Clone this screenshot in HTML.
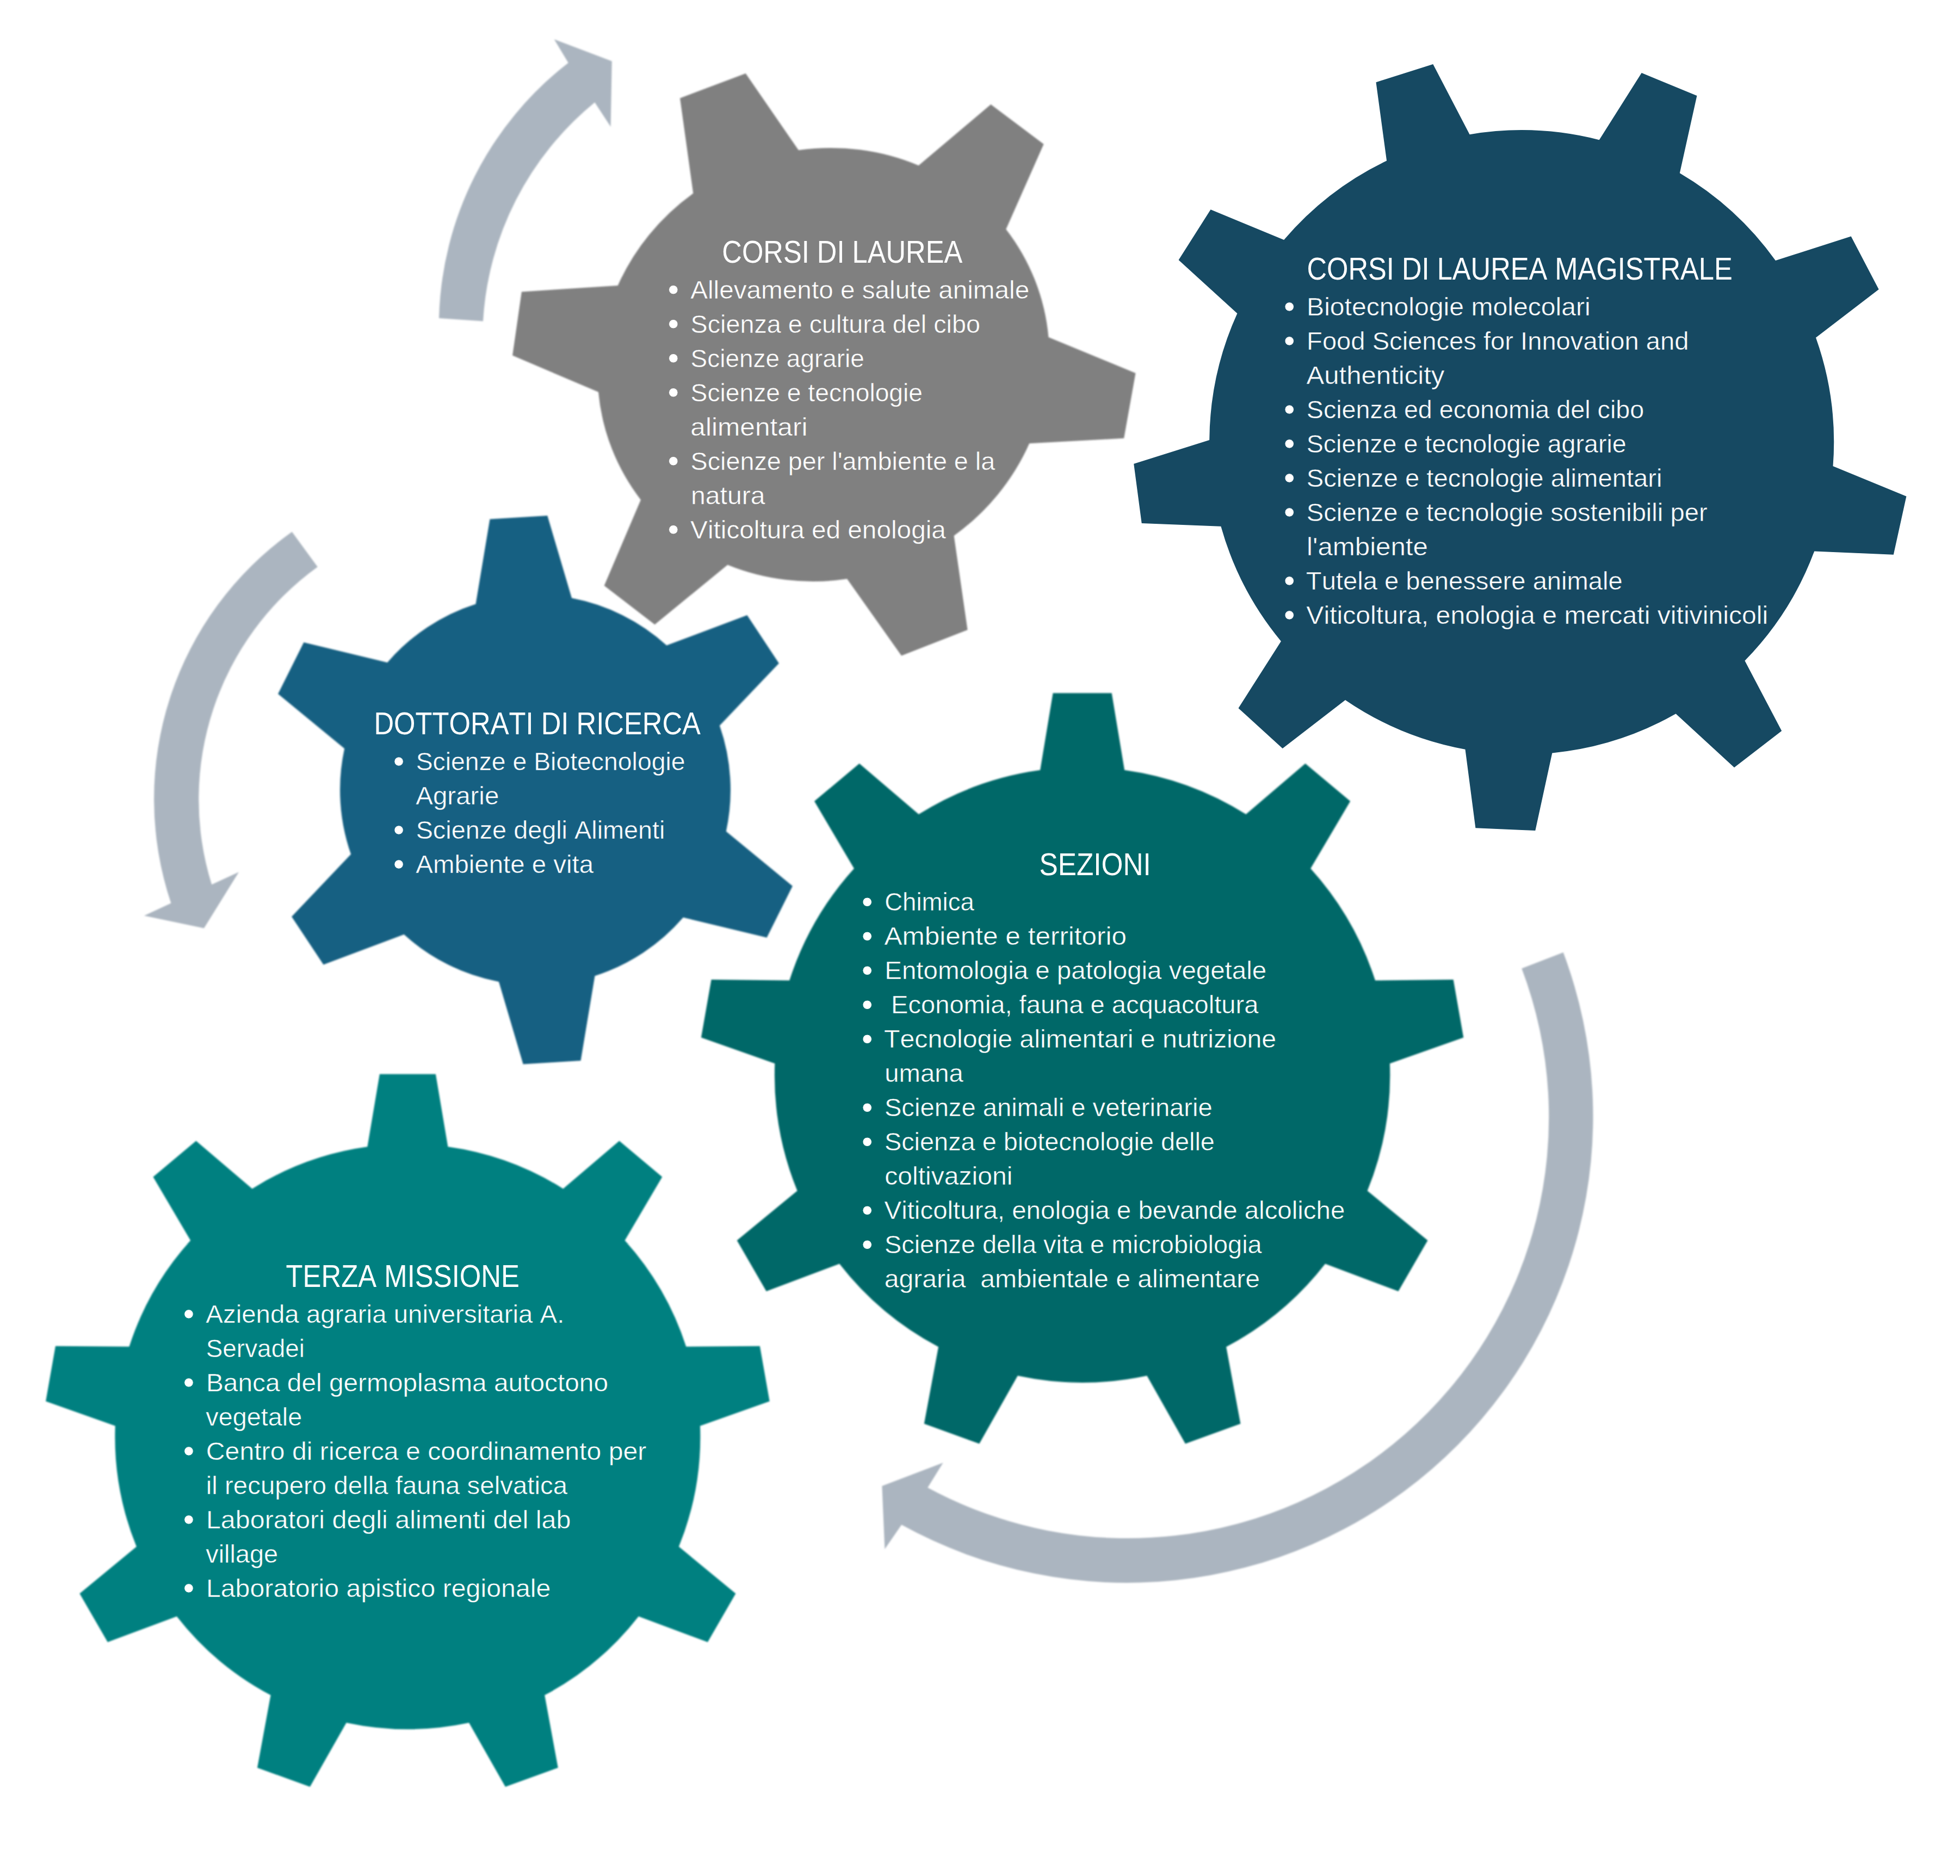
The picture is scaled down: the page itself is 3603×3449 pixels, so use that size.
<!DOCTYPE html>
<html lang="it"><head><meta charset="utf-8"><title>Dipartimento - ingranaggi</title>
<style>html,body{margin:0;padding:0;background:#ffffff}body{width:3603px;height:3449px;overflow:hidden}svg{display:block}text{font-family:"Liberation Sans",sans-serif;fill:#fff;font-kerning:none;white-space:pre}.t{font-size:56.9px;stroke:none}.i{font-size:46.3px;stroke-width:.5px}</style></head><body>
<svg width="3603" height="3449" viewBox="0 0 3603 3449">
<rect width="3603" height="3449" fill="#ffffff"/>
<defs><filter id="soft" x="-2%" y="-2%" width="104%" height="104%"><feGaussianBlur stdDeviation="1.6"/></filter><filter id="soft2" x="-2%" y="-2%" width="104%" height="104%"><feGaussianBlur stdDeviation="0.5"/></filter></defs>
<g filter="url(#soft)">
<path d="M807 585.1 A613.3 613.3 0 0 1 1044.7 115.5 L1018.7 72.2 L1124.8 112.5 L1122.6 233 L1093.3 188.3 A561.3 561.3 0 0 0 888 590.4 Z" fill="#abb5c0"/>
<path d="M536.7 977.8 A602.3 602.3 0 0 0 314.4 1660.5 L265 1683.5 L375 1706.5 L439 1603.3 L389.2 1626.3 A527.1 527.1 0 0 1 583.8 1042.2 Z" fill="#abb5c0"/>
<path d="M2873.7 1751.1 A857.2 857.2 0 0 1 1657.3 2803.3 L1626.4 2847.9 L1621.4 2732.1 L1733.6 2689.3 L1705.3 2735.1 A774.1 774.1 0 0 0 2797.3 1780.4 Z" fill="#abb5c0"/>
<path d="M1927.5 620 L2087.5 686 L2066.1 805.8 L1892.2 815.2 A415.2 397.9 -22 0 1 1753.6 985 L1778.6 1157.9 L1657.1 1205.4 L1557.1 1064.3 A415.2 397.9 -22 0 1 1337.5 1038.6 L1203.6 1148.2 L1110.7 1076.8 L1177.9 918.9 A415.2 397.9 -22 0 1 1100 720.7 L942.1 653.6 L958.9 536.4 L1135.7 525 A415.2 397.9 -22 0 1 1274.3 355.4 L1250 180.4 L1370.7 135 L1467.9 276.1 A415.2 397.9 -22 0 1 1688.6 304.3 L1821.4 192.1 L1918.6 265 L1849.3 421.4 A415.2 397.9 -22 0 1 1927.5 620 Z" fill="#808080"/>
<path d="M1334.8 1528.4 L1456.9 1628.9 L1409.6 1723.7 L1255.9 1686.7 A359 359 0 0 1 1093.5 1794.2 L1067.5 1950.1 L961.7 1956.6 L917 1805 A359 359 0 0 1 742.6 1718.1 L594.6 1773.6 L536.1 1685.2 L645.1 1570.6 A359 359 0 0 1 633.2 1376.2 L511.1 1275.7 L558.4 1180.9 L712.1 1217.9 A359 359 0 0 1 874.5 1110.4 L900.5 954.5 L1006.3 948 L1051 1099.6 A359 359 0 0 1 1225.4 1186.5 L1373.4 1131 L1431.9 1219.4 L1322.9 1334 A359 359 0 0 1 1334.8 1528.4 Z" fill="#176082"/>
<path d="M1912.1 1415.8 L1935.6 1274.2 L2043.6 1274.2 L2067.1 1415.8 A565.7 565.7 0 0 1 2290.4 1497.1 L2399.5 1403.7 L2482.2 1473.1 L2409.2 1596.8 A565.7 565.7 0 0 1 2528 1802.6 L2671.6 1801.1 L2690.3 1907.5 L2554.9 1955.2 A565.7 565.7 0 0 1 2513.6 2189.3 L2624.5 2280.4 L2570.5 2374 L2436.1 2323.5 A565.7 565.7 0 0 1 2254.1 2476.3 L2280.4 2617.4 L2179 2654.3 L2108.4 2529.3 A565.7 565.7 0 0 1 1870.8 2529.3 L1800.2 2654.3 L1698.8 2617.4 L1725.1 2476.3 A565.7 565.7 0 0 1 1543.1 2323.5 L1408.7 2374 L1354.7 2280.4 L1465.6 2189.3 A565.7 565.7 0 0 1 1424.3 1955.2 L1288.9 1907.5 L1307.6 1801.1 L1451.2 1802.6 A565.7 565.7 0 0 1 1570 1596.8 L1497 1473.1 L1579.7 1403.7 L1688.8 1497.1 A565.7 565.7 0 0 1 1912.1 1415.8 Z" fill="#006867"/>
<path d="M675.4 2108.3 L697.9 1974.7 L800.9 1974.7 L823.4 2108.3 A538 538 0 0 1 1035.2 2185.4 L1138.4 2097.5 L1217.3 2163.7 L1148.6 2280.6 A538 538 0 0 1 1261.3 2475.8 L1396.8 2474.7 L1414.7 2576.2 L1287 2621.5 A538 538 0 0 1 1247.9 2843.6 L1352.4 2929.8 L1300.9 3019.1 L1173.9 2971.7 A538 538 0 0 1 1001.2 3116.6 L1025.8 3249.9 L929 3285.1 L862.1 3167.3 A538 538 0 0 1 636.7 3167.3 L569.8 3285.1 L473 3249.9 L497.6 3116.6 A538 538 0 0 1 324.9 2971.7 L197.9 3019.1 L146.4 2929.8 L250.9 2843.6 A538 538 0 0 1 211.8 2621.5 L84.1 2576.2 L102 2474.7 L237.5 2475.8 A538 538 0 0 1 350.2 2280.6 L281.5 2163.7 L360.4 2097.5 L463.6 2185.4 A538 538 0 0 1 675.4 2108.3 Z" fill="#008080"/>
</g>
<path filter="url(#soft2)" d="M3369.5 857.1 L3504.4 912.4 L3480.8 1019.8 L3335.2 1013.4 A574 574 0 0 1 3207.4 1214.7 L3275.2 1343.8 L3188 1410.9 L3080.6 1312.3 A574 574 0 0 1 2853.3 1384.4 L2822.3 1526.9 L2712.4 1522.3 L2693.5 1377.7 A574 574 0 0 1 2473 1286.9 L2357.7 1376.1 L2276.5 1301.9 L2354.9 1179 A574 574 0 0 1 2244.4 967.7 L2098.7 961.9 L2084.2 852.8 L2223.2 809.1 A574 574 0 0 1 2274.4 576.2 L2166.6 478.1 L2225.5 385.3 L2360.2 441.1 A574 574 0 0 1 2549.1 295.6 L2529.5 151.2 L2634.3 117.9 L2701.6 247.2 A574 574 0 0 1 2939.8 257.2 L3017.7 134 L3119.4 175.9 L3087.8 318.2 A574 574 0 0 1 3263.9 479 L3402.7 434.6 L3453.7 532.1 L3338 620.8 A574 574 0 0 1 3369.5 857.1 Z" fill="#134862"/>
<g stroke="#808080">
<text class="t" xml:space="preserve" transform="matrix(0.8903 0 0 1 1327.34 483.2)">CORSI DI LAUREA</text>
<circle cx="1237.8" cy="532.7" r="8.3" fill="#fff"/>
<text class="i" xml:space="preserve" transform="matrix(1.0301 0 0 1 1269.21 548.7)">Allevamento e salute animale</text>
<circle cx="1237.8" cy="595.7" r="8.3" fill="#fff"/>
<text class="i" xml:space="preserve" transform="matrix(1.0094 0 0 1 1269.53 611.7)">Scienza e cultura del cibo</text>
<circle cx="1237.8" cy="658.7" r="8.3" fill="#fff"/>
<text class="i" xml:space="preserve" transform="matrix(0.9927 0 0 1 1269.57 674.7)">Scienze agrarie</text>
<circle cx="1237.8" cy="721.7" r="8.3" fill="#fff"/>
<text class="i" xml:space="preserve" transform="matrix(0.9984 0 0 1 1269.56 737.7)">Scienze e tecnologie</text>
<text class="i" xml:space="preserve" transform="matrix(1.0730 0 0 1 1269.28 800.7)">alimentari</text>
<circle cx="1237.8" cy="847.7" r="8.3" fill="#fff"/>
<text class="i" xml:space="preserve" transform="matrix(1.0095 0 0 1 1269.53 863.7)">Scienze per l'ambiente e la</text>
<text class="i" xml:space="preserve" transform="matrix(1.0413 0 0 1 1270.01 926.7)">natura</text>
<circle cx="1237.8" cy="973.7" r="8.3" fill="#fff"/>
<text class="i" xml:space="preserve" transform="matrix(1.0315 0 0 1 1269.09 989.7)">Viticoltura ed enologia</text>
</g>
<g stroke="#134862">
<text class="t" xml:space="preserve" transform="matrix(0.8902 0 0 1 2402.46 514.1)">CORSI DI LAUREA MAGISTRALE</text>
<circle cx="2370.2" cy="563.9" r="8.3" fill="#fff"/>
<text class="i" xml:space="preserve" transform="matrix(1.0400 0 0 1 2402.02 579.9)">Biotecnologie molecolari</text>
<circle cx="2370.2" cy="626.9" r="8.3" fill="#fff"/>
<text class="i" xml:space="preserve" transform="matrix(1.0181 0 0 1 2402.1 642.9)">Food Sciences for Innovation and</text>
<text class="i" xml:space="preserve" transform="matrix(1.0614 0 0 1 2401.4 705.9)">Authenticity</text>
<circle cx="2370.2" cy="752.9" r="8.3" fill="#fff"/>
<text class="i" xml:space="preserve" transform="matrix(1.0090 0 0 1 2401.73 768.9)">Scienza ed economia del cibo</text>
<circle cx="2370.2" cy="815.9" r="8.3" fill="#fff"/>
<text class="i" xml:space="preserve" transform="matrix(1.0067 0 0 1 2401.74 831.9)">Scienze e tecnologie agrarie</text>
<circle cx="2370.2" cy="878.9" r="8.3" fill="#fff"/>
<text class="i" xml:space="preserve" transform="matrix(1.0205 0 0 1 2401.71 894.9)">Scienze e tecnologie alimentari</text>
<circle cx="2370.2" cy="941.9" r="8.3" fill="#fff"/>
<text class="i" xml:space="preserve" transform="matrix(1.0191 0 0 1 2401.71 957.9)">Scienze e tecnologie sostenibili per</text>
<text class="i" xml:space="preserve" transform="matrix(1.0633 0 0 1 2402.09 1020.9)">l'ambiente</text>
<circle cx="2370.2" cy="1067.9" r="8.3" fill="#fff"/>
<text class="i" xml:space="preserve" transform="matrix(1.0189 0 0 1 2400.84 1083.9)">Tutela e benessere animale</text>
<circle cx="2370.2" cy="1130.9" r="8.3" fill="#fff"/>
<text class="i" xml:space="preserve" transform="matrix(1.0407 0 0 1 2401.29 1146.9)">Viticoltura, enologia e mercati vitivinicoli</text>
</g>
<g stroke="#176082">
<text class="t" xml:space="preserve" transform="matrix(0.8919 0 0 1 687.45 1350)">DOTTORATI DI RICERCA</text>
<circle cx="733.1" cy="1400" r="8.3" fill="#fff"/>
<text class="i" xml:space="preserve" transform="matrix(1.0018 0 0 1 764.65 1416)">Scienze e Biotecnologie</text>
<text class="i" xml:space="preserve" transform="matrix(1.0253 0 0 1 764.31 1479)">Agrarie</text>
<circle cx="733.1" cy="1526" r="8.3" fill="#fff"/>
<text class="i" xml:space="preserve" transform="matrix(1.0110 0 0 1 764.63 1542)">Scienze degli Alimenti</text>
<circle cx="733.1" cy="1589" r="8.3" fill="#fff"/>
<text class="i" xml:space="preserve" transform="matrix(1.0240 0 0 1 764.31 1605)">Ambiente e vita</text>
</g>
<g stroke="#006867">
<text class="t" xml:space="preserve" transform="matrix(0.9026 0 0 1 1910.43 1609.3)">SEZIONI</text>
<circle cx="1594.2" cy="1658.3" r="8.3" fill="#fff"/>
<text class="i" xml:space="preserve" transform="matrix(0.9854 0 0 1 1626.16 1674.3)">Chimica</text>
<circle cx="1594.2" cy="1721.3" r="8.3" fill="#fff"/>
<text class="i" xml:space="preserve" transform="matrix(1.0691 0 0 1 1625.6 1737.3)">Ambiente e territorio</text>
<circle cx="1594.2" cy="1784.3" r="8.3" fill="#fff"/>
<text class="i" xml:space="preserve" transform="matrix(1.0254 0 0 1 1626.27 1800.3)">Entomologia e patologia vegetale</text>
<circle cx="1594.2" cy="1847.3" r="8.3" fill="#fff"/>
<text class="i" xml:space="preserve" transform="matrix(1.0169 0 0 1 1625.04 1863.3)"> Economia, fauna e acquacoltura</text>
<circle cx="1594.2" cy="1910.3" r="8.3" fill="#fff"/>
<text class="i" xml:space="preserve" transform="matrix(1.0421 0 0 1 1625.02 1926.3)">Tecnologie alimentari e nutrizione</text>
<text class="i" xml:space="preserve" transform="matrix(1.0209 0 0 1 1626.27 1989.3)">umana</text>
<circle cx="1594.2" cy="2036.3" r="8.3" fill="#fff"/>
<text class="i" xml:space="preserve" transform="matrix(1.0189 0 0 1 1625.91 2052.3)">Scienze animali e veterinarie</text>
<circle cx="1594.2" cy="2099.3" r="8.3" fill="#fff"/>
<text class="i" xml:space="preserve" transform="matrix(1.0122 0 0 1 1625.93 2115.3)">Scienza e biotecnologie delle</text>
<text class="i" xml:space="preserve" transform="matrix(1.0386 0 0 1 1626.21 2178.3)">coltivazioni</text>
<circle cx="1594.2" cy="2225.3" r="8.3" fill="#fff"/>
<text class="i" xml:space="preserve" transform="matrix(1.0253 0 0 1 1625.49 2241.3)">Viticoltura, enologia e bevande alcoliche</text>
<circle cx="1594.2" cy="2288.3" r="8.3" fill="#fff"/>
<text class="i" xml:space="preserve" transform="matrix(1.0135 0 0 1 1625.92 2304.3)">Scienze della vita e microbiologia</text>
<text class="i" xml:space="preserve" transform="matrix(1.0398 0 0 1 1625.74 2367.3)">agraria  ambientale e alimentare</text>
</g>
<g stroke="#008080">
<text class="t" xml:space="preserve" transform="matrix(0.8937 0 0 1 525.54 2365.7)">TERZA MISSIONE</text>
<circle cx="347" cy="2415.9" r="8.3" fill="#fff"/>
<text class="i" xml:space="preserve" transform="matrix(1.0248 0 0 1 378.31 2431.9)">Azienda agraria universitaria A.</text>
<text class="i" xml:space="preserve" transform="matrix(0.9925 0 0 1 378.67 2494.9)">Servadei</text>
<circle cx="347" cy="2541.9" r="8.3" fill="#fff"/>
<text class="i" xml:space="preserve" transform="matrix(1.0331 0 0 1 378.94 2557.9)">Banca del germoplasma autoctono</text>
<text class="i" xml:space="preserve" transform="matrix(1.0114 0 0 1 378.24 2620.9)">vegetale</text>
<circle cx="347" cy="2667.9" r="8.3" fill="#fff"/>
<text class="i" xml:space="preserve" transform="matrix(1.0423 0 0 1 378.73 2683.9)">Centro di ricerca e coordinamento per</text>
<text class="i" xml:space="preserve" transform="matrix(1.0243 0 0 1 378.83 2746.9)">il recupero della fauna selvatica</text>
<circle cx="347" cy="2793.9" r="8.3" fill="#fff"/>
<text class="i" xml:space="preserve" transform="matrix(1.0466 0 0 1 378.89 2809.9)">Laboratori degli alimenti del lab</text>
<text class="i" xml:space="preserve" transform="matrix(1.0129 0 0 1 378.24 2872.9)">village</text>
<circle cx="347" cy="2919.9" r="8.3" fill="#fff"/>
<text class="i" xml:space="preserve" transform="matrix(1.0430 0 0 1 378.9 2935.9)">Laboratorio apistico regionale</text>
</g>
</svg></body></html>
